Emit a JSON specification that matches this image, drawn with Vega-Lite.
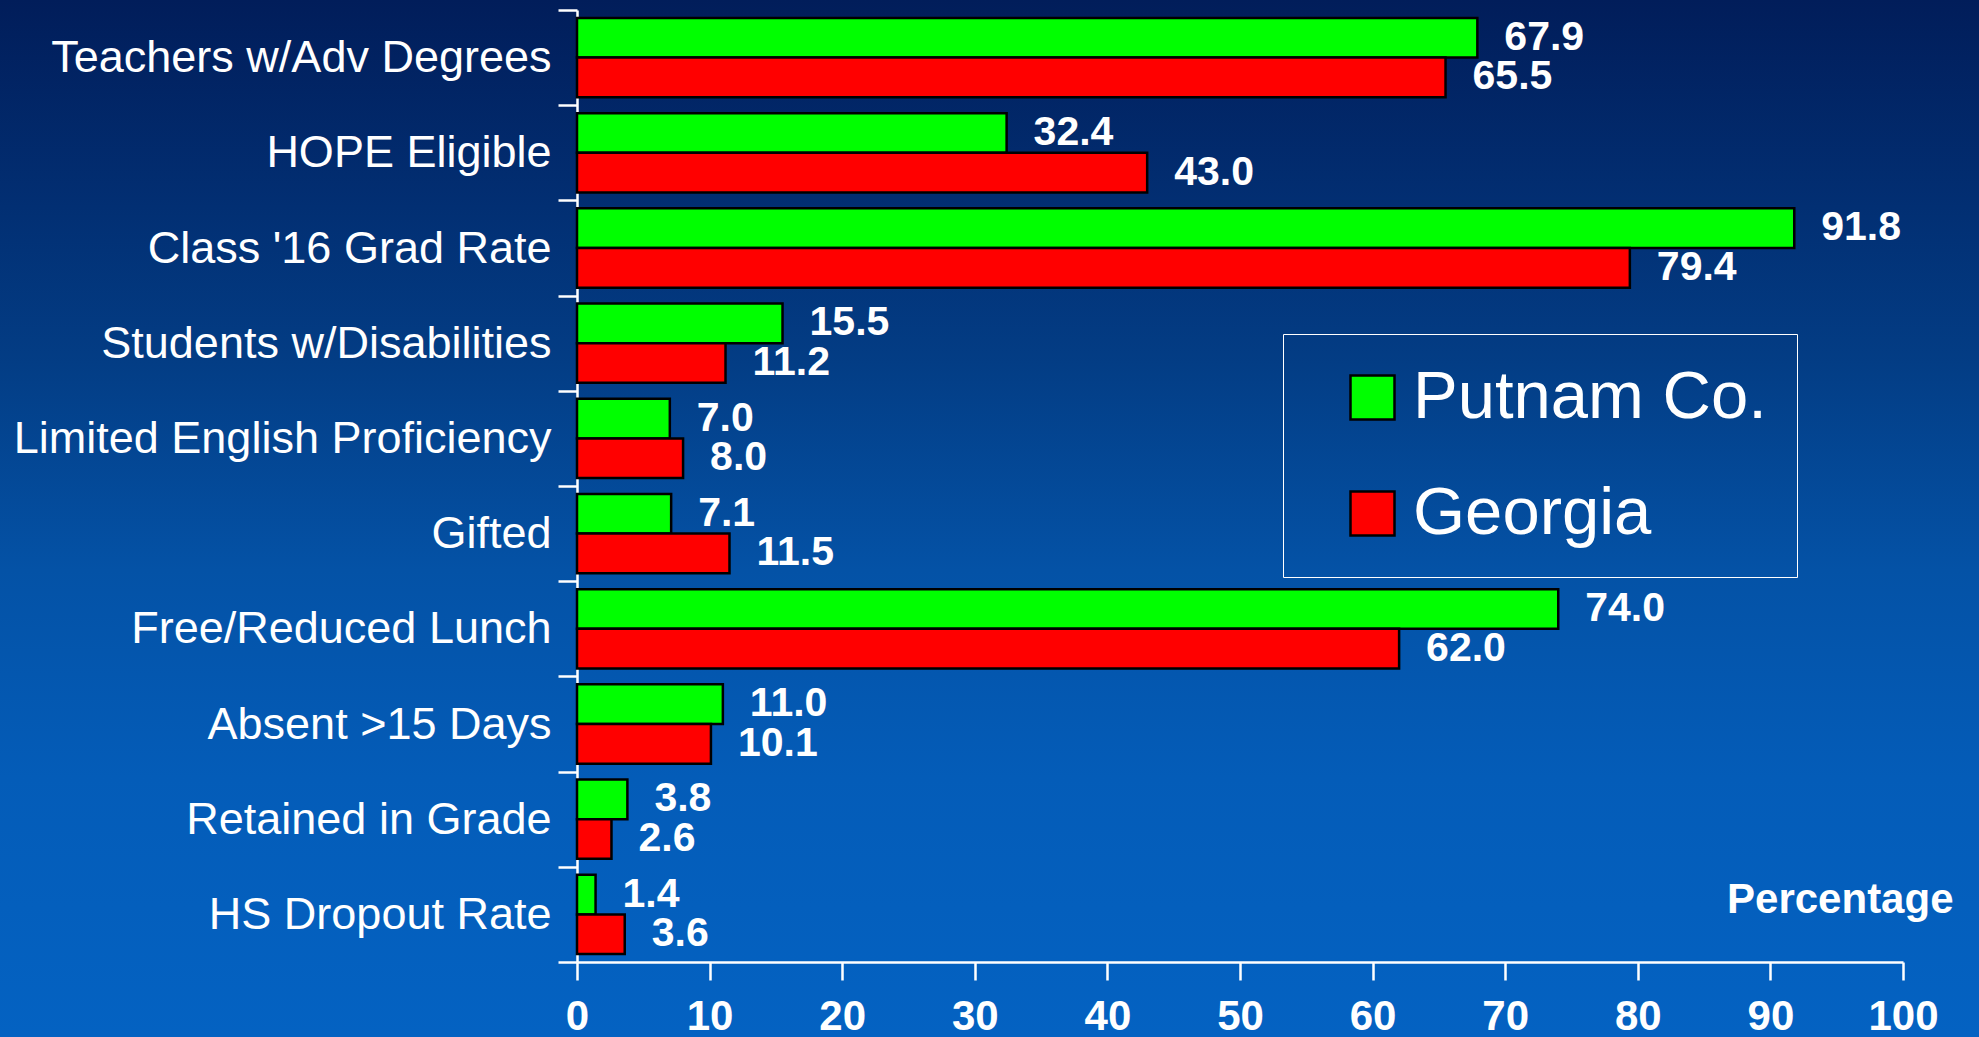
{
  "$schema": "https://vega.github.io/schema/vega-lite/v6.json",
  "width": 1979,
  "height": 1037,
  "padding": 0,
  "autosize": {"type": "none"},
  "background": "#0350a8",
  "config": {
    "view": {
      "stroke": null,
      "fill": {
        "gradient": "linear",
        "x1": 0, "y1": 0, "x2": 0, "y2": 1,
        "stops": [
          {"offset": 0, "color": "#011d5a"},
          {"offset": 0.2, "color": "#022f73"},
          {"offset": 0.35, "color": "#033d85"},
          {"offset": 0.55, "color": "#0452a6"},
          {"offset": 0.75, "color": "#045cb8"},
          {"offset": 1, "color": "#0462c2"}
        ]
      }
    }
  },
  "data": {
    "values": [
      {"measure": "Teachers w/Adv Degrees", "area": "Putnam Co.", "pct": 67.9},
      {"measure": "Teachers w/Adv Degrees", "area": "Georgia", "pct": 65.5},
      {"measure": "HOPE Eligible", "area": "Putnam Co.", "pct": 32.4},
      {"measure": "HOPE Eligible", "area": "Georgia", "pct": 43.0},
      {"measure": "Class '16 Grad Rate", "area": "Putnam Co.", "pct": 91.8},
      {"measure": "Class '16 Grad Rate", "area": "Georgia", "pct": 79.4},
      {"measure": "Students w/Disabilities", "area": "Putnam Co.", "pct": 15.5},
      {"measure": "Students w/Disabilities", "area": "Georgia", "pct": 11.2},
      {"measure": "Limited English Proficiency", "area": "Putnam Co.", "pct": 7.0},
      {"measure": "Limited English Proficiency", "area": "Georgia", "pct": 8.0},
      {"measure": "Gifted", "area": "Putnam Co.", "pct": 7.1},
      {"measure": "Gifted", "area": "Georgia", "pct": 11.5},
      {"measure": "Free/Reduced Lunch", "area": "Putnam Co.", "pct": 74.0},
      {"measure": "Free/Reduced Lunch", "area": "Georgia", "pct": 62.0},
      {"measure": "Absent >15 Days", "area": "Putnam Co.", "pct": 11.0},
      {"measure": "Absent >15 Days", "area": "Georgia", "pct": 10.1},
      {"measure": "Retained in Grade", "area": "Putnam Co.", "pct": 3.8},
      {"measure": "Retained in Grade", "area": "Georgia", "pct": 2.6},
      {"measure": "HS Dropout Rate", "area": "Putnam Co.", "pct": 1.4},
      {"measure": "HS Dropout Rate", "area": "Georgia", "pct": 3.6}
    ]
  },
  "encoding": {
    "y": {
      "field": "measure",
      "type": "nominal",
      "sort": null,
      "scale": {"range": [10, 962], "paddingInner": 0, "paddingOuter": 0},
      "axis": {
        "title": null,
        "orient": "left",
        "offset": -577,
        "domainColor": "white",
        "domainWidth": 2.5,
        "tickColor": "white",
        "tickWidth": 2.5,
        "tickSize": 19,
        "tickBand": "extent",
        "labelFont": "Liberation Sans",
        "labelFontSize": 45,
        "labelColor": "white",
        "labelPadding": 7,
        "labelLimit": 700
      }
    },
    "yOffset": {
      "field": "area",
      "type": "nominal",
      "sort": ["Putnam Co.", "Georgia"],
      "scale": {"paddingInner": 0, "paddingOuter": 0.2}
    },
    "x": {
      "field": "pct",
      "type": "quantitative",
      "scale": {"domain": [0, 100], "range": [577, 1903], "nice": false, "zero": true},
      "axis": {
        "orient": "bottom",
        "offset": -75,
        "values": [0, 10, 20, 30, 40, 50, 60, 70, 80, 90, 100],
        "format": "d",
        "grid": false,
        "domainColor": "white",
        "domainWidth": 2.5,
        "tickColor": "white",
        "tickWidth": 2.5,
        "tickSize": 18,
        "labelFont": "Liberation Sans",
        "labelFontWeight": "bold",
        "labelFontSize": 42,
        "labelColor": "white",
        "labelPadding": 16,
        "labelFlush": false,
        "labelOverlap": false,
        "title": "Percentage",
        "titleFont": "Liberation Sans",
        "titleFontWeight": "bold",
        "titleFontSize": 42,
        "titleColor": "white",
        "titleX": 1953,
        "titleY": -50,
        "titleAlign": "right",
        "titleBaseline": "alphabetic"
      }
    }
  },
  "layer": [
    {
      "mark": {"type": "bar", "stroke": "black", "strokeWidth": 2.5, "opacity": 1},
      "encoding": {
        "color": {
          "field": "area",
          "type": "nominal",
          "sort": ["Putnam Co.", "Georgia"],
          "scale": {"domain": ["Putnam Co.", "Georgia"], "range": ["#00ff00", "#ff0000"]},
          "legend": {
            "orient": "none",
            "legendX": 1283,
            "legendY": 334,
            "title": null,
            "direction": "vertical",
            "strokeColor": "white",
            "padding": 30,
            "symbolType": "square",
            "symbolSize": 1936,
            "symbolStrokeColor": "black",
            "symbolStrokeWidth": 2.5,
            "symbolOpacity": 1,
            "symbolOffset": 26,
            "labelFont": "Liberation Sans",
            "labelFontSize": 67,
            "labelColor": "white",
            "labelOffset": 7,
            "rowPadding": 48,
            "labelLimit": 600
          }
        }
      }
    },
    {
      "mark": {
        "type": "text",
        "align": "left",
        "baseline": "middle",
        "dx": 27,
        "font": "Liberation Sans",
        "fontWeight": "bold",
        "fontSize": 41,
        "color": "white"
      },
      "encoding": {
        "text": {"field": "pct", "type": "quantitative", "format": ".1f"}
      }
    }
  ]
}
